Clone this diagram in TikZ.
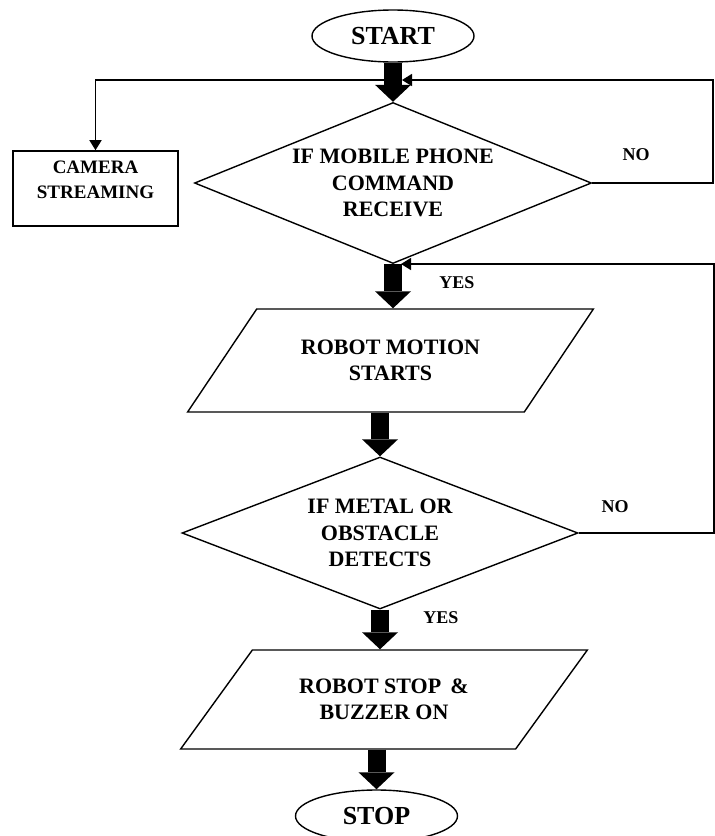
\documentclass[tikz,border=0pt]{standalone}
\usepackage{fontspec}
\setmainfont{Liberation Serif}
\usetikzlibrary{shapes.geometric,arrows.meta}
\tikzset{
  term/.style={ellipse, draw, line width=1.4pt, inner sep=1pt,
    minimum width=162pt, minimum height=52pt,
    font=\fontsize{26}{30}\selectfont\bfseries},
  test/.style={diamond, draw, line width=1.4pt, aspect=2.5, inner sep=0pt,
    align=center, font=\fontsize{22}{26.5}\selectfont\bfseries},
  io/.style={trapezium, trapezium left angle=45, trapezium right angle=135,
    trapezium stretches=true, draw, line width=1.4pt, align=center,
    font=\fontsize{22}{26.5}\selectfont\bfseries},
  procbox/.style={rectangle, draw, line width=1.6pt, minimum width=165pt,
    minimum height=75pt, align=center, text depth=17pt,
    font=\fontsize{19}{25}\selectfont\bfseries},
  lbl/.style={font=\fontsize{18}{20}\selectfont\bfseries},
  flow/.style={line width=18pt, -{Triangle[width=36pt,length=17pt,line width=0pt]}},
  back/.style={line width=1.6pt, -{Triangle[width=12pt,length=10pt]}},
}
\begin{document}
\begin{tikzpicture}[x=1pt,y=-1pt]
  \useasboundingbox (0,0) rectangle (715,836);
  \node[term] (start) at (393,36) {START};
  \node[test, minimum width=397pt, minimum height=161pt] (cmd) at (393,183)
    {IF MOBILE PHONE\\COMMAND\\RECEIVE};
  \node[procbox] (cam) at (95.5,188.5) {CAMERA\\STREAMING};
  \node[io, minimum width=407pt, minimum height=103pt] (move) at (390.5,360.5)
    {ROBOT MOTION\\STARTS};
  \node[test, minimum width=396pt, minimum height=152pt] (detect) at (380,533)
    {IF METAL OR\\OBSTACLE\\DETECTS};
  \node[io, minimum width=408pt, minimum height=99pt] (halt) at (384,699.5)
    {ROBOT STOP \,\&\\BUZZER ON};
  \node[term] (stop) at (376.5,816) {STOP};
  \node[lbl] (no1) at (636,155) {NO};
  \node[lbl] (no2) at (615,507) {NO};
  \node[lbl] (yes1) at (457,283) {YES};
  \node[lbl] (yes2) at (441,618) {YES};
  \coordinate (j1) at (402,80);
  \coordinate (j2) at (401,264);
  % loops back
  \draw [back] (cmd.east) -- ++(121,0) |- (j1);
  \draw [back] (j1) -| (cam.north);
  \draw [back] (detect.east) -- ++(135,0) |- (j2);
  % main flow
  \draw [flow] (start) -- (cmd);
  \draw [flow] (cmd.south) -- (cmd.south |- move.north);
  \draw [flow] (move.south -| detect.north) -- (detect.north);
  \draw [flow] (detect.south) -- (detect.south |- halt.north);
  \draw [flow] (halt.south -| stop.north) -- (stop.north);
\end{tikzpicture}
\end{document}
